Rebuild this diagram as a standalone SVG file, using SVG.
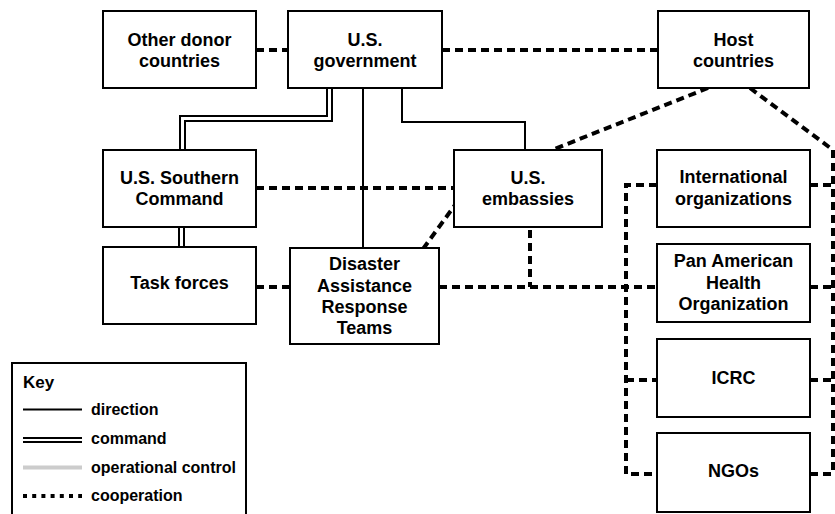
<svg xmlns="http://www.w3.org/2000/svg" width="835" height="514" viewBox="0 0 835 514">
<style>
.box{fill:#fff;stroke:#000;stroke-width:2}
.t{font-family:"Liberation Sans",Arial,sans-serif;font-weight:bold;font-size:18px;fill:#000;text-anchor:middle}
.k{font-family:"Liberation Sans",Arial,sans-serif;font-weight:bold;font-size:16px;fill:#000}
.dir{fill:none;stroke:#000;stroke-width:2}
.cmdo{fill:none;stroke:#000;stroke-width:7}
.cmdi{fill:none;stroke:#fff;stroke-width:3}
.coop{fill:none;stroke:#000;stroke-width:4;stroke-dasharray:8 5}
.op{fill:none;stroke:#ccc;stroke-width:4}
</style>
<rect width="835" height="514" fill="#fff"/>
<g id="connectors">
<line class="coop" x1="256" y1="50" x2="288" y2="50"/>
<line class="coop" x1="442" y1="50" x2="658" y2="50"/>
<path class="cmdo" d="M329.5,88 V118.5 H182.5 V150"/>
<path class="cmdi" d="M329.5,88 V118.5 H182.5 V150"/>
<line class="cmdo" x1="181.5" y1="227" x2="181.5" y2="247"/>
<line class="cmdi" x1="181.5" y1="227" x2="181.5" y2="247"/>
<line class="dir" x1="363" y1="88" x2="363" y2="248"/>
<path class="dir" d="M402,88 V122 H525 V150"/>
<line class="coop" x1="256" y1="188" x2="454" y2="188"/>
<line class="coop" x1="256" y1="287" x2="290" y2="287"/>
<line class="coop" x1="439" y1="287" x2="657" y2="287"/>
<line class="coop" x1="530" y1="230" x2="530" y2="287"/>
<line class="coop" x1="423" y1="249" x2="455" y2="205"/>
<line class="coop" x1="708" y1="88" x2="552" y2="150"/>
<line class="coop" x1="750" y1="88" x2="833" y2="150"/>
<line class="coop" x1="833" y1="150" x2="833" y2="474"/>
<path class="coop" d="M657,185 H626 V474 H657"/>
<line class="coop" x1="626" y1="380" x2="657" y2="380"/>
<line class="coop" x1="810" y1="185" x2="833" y2="185"/>
<line class="coop" x1="810" y1="287" x2="833" y2="287"/>
<line class="coop" x1="810" y1="380" x2="833" y2="380"/>
<line class="coop" x1="810" y1="474" x2="833" y2="474"/>
</g>
<g id="other-donor">
<rect class="box" x="103" y="11" width="153" height="77"/>
<text class="t" x="179.5" y="46">Other donor</text>
<text class="t" x="179.5" y="67">countries</text>
</g>
<g id="us-gov">
<rect class="box" x="288" y="11" width="154" height="77"/>
<text class="t" x="365" y="46">U.S.</text>
<text class="t" x="365" y="67">government</text>
</g>
<g id="host">
<rect class="box" x="658" y="11" width="151" height="77"/>
<text class="t" x="733.5" y="46">Host</text>
<text class="t" x="733.5" y="67">countries</text>
</g>
<g id="southcom">
<rect class="box" x="103" y="150" width="153" height="77"/>
<text class="t" x="179.5" y="184">U.S. Southern</text>
<text class="t" x="179.5" y="205">Command</text>
</g>
<g id="task-forces">
<rect class="box" x="103" y="247" width="153" height="77"/>
<text class="t" x="179.5" y="289">Task forces</text>
</g>
<g id="dart">
<rect class="box" x="290" y="248" width="149" height="96"/>
<text class="t" x="364.5" y="270">Disaster</text>
<text class="t" x="364.5" y="292">Assistance</text>
<text class="t" x="364.5" y="313">Response</text>
<text class="t" x="364.5" y="334">Teams</text>
</g>
<g id="embassies">
<rect class="box" x="454" y="150" width="148" height="77"/>
<text class="t" x="528" y="184">U.S.</text>
<text class="t" x="528" y="205">embassies</text>
</g>
<g id="intl-org">
<rect class="box" x="657" y="150" width="153" height="77"/>
<text class="t" x="733.5" y="183">International</text>
<text class="t" x="733.5" y="205">organizations</text>
</g>
<g id="paho">
<rect class="box" x="657" y="244" width="153" height="78"/>
<text class="t" x="733.5" y="267">Pan American</text>
<text class="t" x="733.5" y="289">Health</text>
<text class="t" x="733.5" y="310">Organization</text>
</g>
<g id="icrc">
<rect class="box" x="657" y="339" width="153" height="78"/>
<text class="t" x="733.5" y="384">ICRC</text>
</g>
<g id="ngos">
<rect class="box" x="657" y="433" width="153" height="79"/>
<text class="t" x="733.5" y="477">NGOs</text>
</g>
<g id="key">
<rect class="box" x="12" y="363" width="234" height="160"/>
<text class="k" x="23" y="388" style="font-size:17px">Key</text>
<line class="dir" x1="23" y1="409.5" x2="82" y2="409.5"/>
<text class="k" x="91" y="415">direction</text>
<line x1="23" y1="440" x2="82" y2="440" stroke="#000" stroke-width="6"/>
<line x1="23" y1="440" x2="82" y2="440" stroke="#fff" stroke-width="2"/>
<text class="k" x="91" y="444">command</text>
<line class="op" x1="23" y1="467.5" x2="82" y2="467.5"/>
<text class="k" x="91" y="473">operational control</text>
<line x1="23" y1="496" x2="82" y2="496" stroke="#000" stroke-width="4" stroke-dasharray="4 5.2"/>
<text class="k" x="91" y="501">cooperation</text>
</g>
</svg>
